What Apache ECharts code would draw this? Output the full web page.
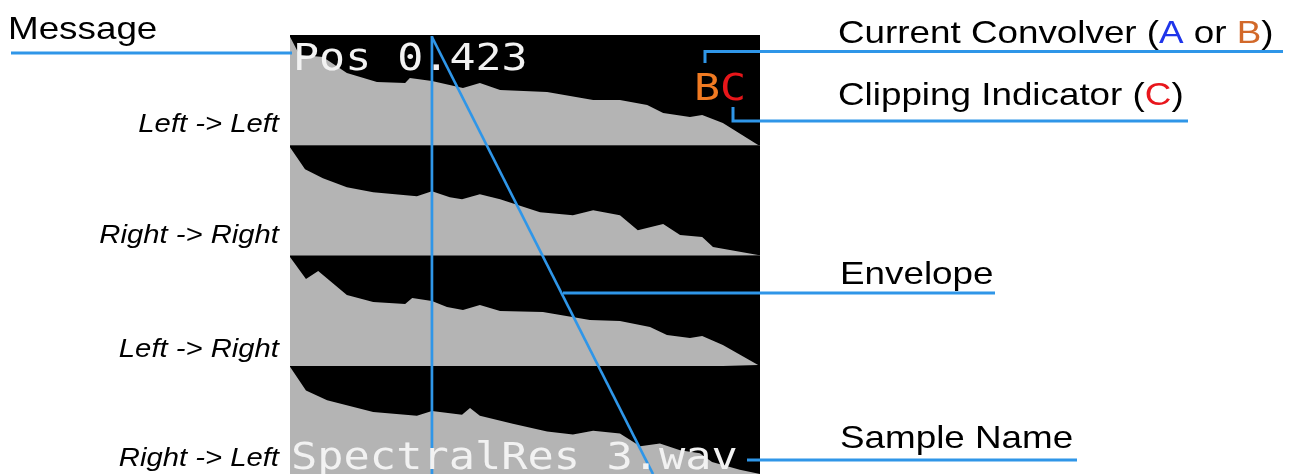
<!DOCTYPE html>
<html><head><meta charset="utf-8">
<script src="https://cdn.jsdelivr.net/npm/echarts@6/dist/echarts.min.js"></script>
<style>html,body{margin:0;padding:0;background:#fff}#c{width:1296px;height:474px}</style>
</head><body><div id="c"></div>
<script>
// ---- data ----
const panelLabels = ['Left -> Left', 'Right -> Right', 'Left -> Right', 'Right -> Left'];
// envelope: [position %, level %]
const envLeftLeft = [[0,98.5],[2,82],[7,80],[12.1,65.5],[18.5,57.3],[24.5,56.4],[25.5,61],[30.2,58.3],[36.8,52],[40.4,56.5],[44.7,50.1],[54.7,48.3],[64.5,41.1],[70.2,41.1],[76,36.5],[79.4,29.3],[85.1,25.6],[87.7,27.5],[92.1,20.2],[99.6,0.3],[100,0]];
const envRightRight = [[0,98.2],[3.2,78.3],[7,70.1],[12.1,62],[17.7,57.4],[27,53.8],[30.2,58.4],[34,52.9],[36.6,51.1],[40.4,55.7],[44.7,51.1],[53.2,39.3],[60.2,36.6],[64.5,41.2],[70.2,36.6],[74,23],[79.4,28.6],[83,18.7],[87.7,16.9],[90,7.8],[99.6,0.5],[100,0]];
const envLeftRight = [[0,98.7],[3.4,78.8],[6,86],[12.1,64.3],[17.7,57.9],[24.5,56.1],[26,61.6],[30.2,58.8],[33.4,53.4],[36.8,50.7],[40.4,55.2],[44.7,49.8],[53.8,48.9],[63.8,41.6],[70.2,40.7],[76.6,35.3],[80.2,28],[85.1,25.3],[87.7,27.1],[92.1,19],[99.6,0.8],[100,0]];
const envRightLeft = [[0,99.1],[3.4,77.3],[7.9,68.2],[17.7,57.4],[27,53.8],[30.2,58.3],[36.6,54.7],[38.3,61],[40.4,53.8],[47.4,46.5],[54.7,39.3],[60.2,36.5],[64.5,40.1],[70.2,37.4],[74.5,25.6],[78.7,28.3],[83,22],[87.2,19.3],[89.8,11.2],[95.7,3.9],[100,0]];
const envelopes = [envLeftLeft, envRightRight, envLeftRight, envRightLeft];
const cursorPos = 30.2;
const messageText = 'Pos 0.423';
const sampleText = 'SpectralRes 3.wav';

// ---- layout ----
const PL = 290, PW = 470, PT = 35, PH = 110.3;
const BLUE = '#2f96e8';
const grids = [], xAxes = [], yAxes = [], series = [];
envelopes.forEach((env, i) => {
  grids.push({left: PL, width: PW, top: PT + i * PH, height: PH, show: true, backgroundColor: '#000', borderWidth: 0});
  xAxes.push({type: 'value', gridIndex: i, min: 0, max: 100, show: false});
  yAxes.push({type: 'value', gridIndex: i, min: 0, max: 100, show: false});
  series.push({type: 'line', xAxisIndex: i, yAxisIndex: i, data: env, showSymbol: false, symbol: 'none',
    lineStyle: {width: 0}, areaStyle: {color: '#b4b4b4', opacity: 1}, silent: true});
});
const chart = echarts.init(document.getElementById('c'), null, {renderer: 'canvas'});
chart.setOption({animation: false, grid: grids, xAxis: xAxes, yAxis: yAxes, series: series});

const cx = chart.convertToPixel({gridIndex: 0}, [cursorPos, 0])[0];
const sans = 'Liberation Sans, Arial, Helvetica, sans-serif';
const mono = 'DejaVu Sans Mono, monospace';
function line(pts, w) { return {type: 'polyline', z: 100, shape: {points: pts}, style: {stroke: BLUE, lineWidth: w || 3, fill: null}}; }
function txt(x, y, s, opt) {
  return Object.assign({type: 'text', z: 110, x: x, y: y, scaleX: opt.sx || 1,
    style: Object.assign({text: s, fontSize: opt.size || 32, fontFamily: opt.font || sans, fontStyle: opt.italic ? 'italic' : 'normal',
      fontWeight: opt.weight || 'normal',
      fill: opt.fill || '#000', align: opt.align || 'left', verticalAlign: 'middle'}, opt.extra || {})});
}
const labelY = [125, 236, 350, 459];
const g = [];
// display texts (LCD)
g.push(txt(293, 60, messageText, {font: mono, size: 37, sx: 1.17, fill: '#f2f2f2'}));
g.push(txt(291, 459, sampleText, {font: mono, size: 37, sx: 1.18, fill: '#f2f2f2'}));
g.push(txt(694, 90, 'B', {font: mono, size: 37, sx: 1.17, fill: '#f07a22'}));
g.push(txt(720, 90, 'C', {font: mono, size: 37, sx: 1.17, fill: '#e8161a'}));
// lines
g.push(line([[11, 53], [292, 53]]));
g.push(line([[cx, 36], [cx, 474]], 2.7));
g.push(line([[cx, 37], [653, 474]], 2.7));
g.push(line([[705, 63], [705, 51.5], [1283, 51.5]]));
g.push(line([[733, 107], [733, 121], [1188, 121]]));
g.push(line([[563, 293], [995, 293]]));
g.push(line([[747, 460], [1077, 460]]));
// annotation texts
g.push(txt(8, 30, 'Message', {sx: 1.15}));
g.push(txt(838, 34, 'Current Convolver ({a|A} or {b|B})', {sx: 1.15, extra: {rich: {a: {fill: '#1f35ea', fontSize: 32, fontFamily: sans}, b: {fill: '#d2692a', fontSize: 32, fontFamily: sans}}}}));
g.push(txt(838, 96, 'Clipping Indicator ({c|C})', {sx: 1.15, extra: {rich: {c: {fill: '#e8161c', fontSize: 32, fontFamily: sans}}}}));
g.push(txt(840, 275, 'Envelope', {sx: 1.15}));
g.push(txt(840, 439, 'Sample Name', {sx: 1.15}));
panelLabels.forEach((s, i) => g.push(txt(279, labelY[i], s, {size: 25, italic: true, sx: 1.17, align: 'right'})));
chart.setOption({graphic: {elements: g}});
</script></body></html>
